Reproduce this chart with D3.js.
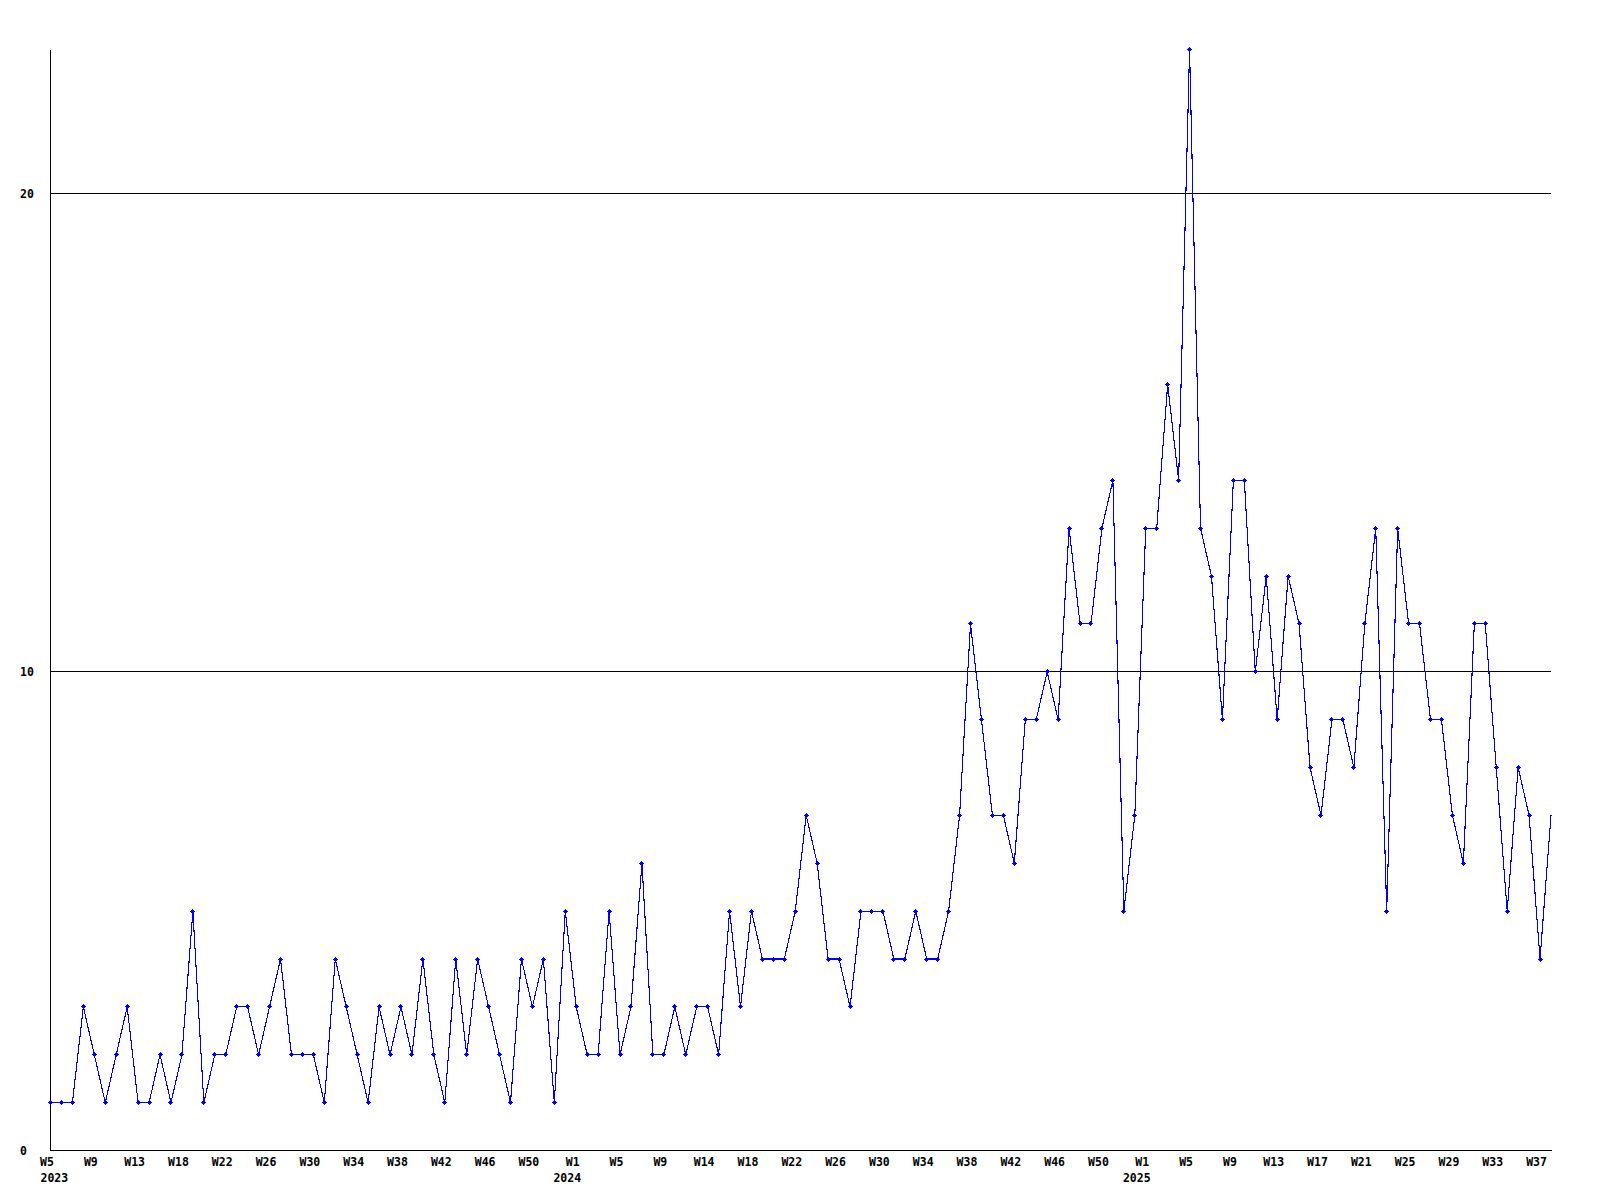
<!DOCTYPE html>
<html>
<head>
<meta charset="utf-8">
<script src="https://cdn.jsdelivr.net/npm/d3@7"></script>
<style>
  html, body { margin: 0; padding: 0; background: #ffffff; }
  svg { display: block; }
  text { font-family: "DejaVu Sans Mono", "Liberation Mono", monospace; font-weight: bold; font-size: 11.5px; fill: #000; }
</style>
</head>
<body>
<svg id="chart" width="1600" height="1200"></svg>
<script>
// Weekly values, 2023 W5 .. 2025 W38
const values = [
  1,1,1,3,2,1,2,3,1,1,2,1,2,5,1,2,2,3,3,2,3,4,2,2,2,1,4,3,2,1,3,2,3,2,4,2,1,4,2,4,3,2,1,4,3,4,
  1,5,3,2,2,5,2,3,6,2,2,3,2,3,3,2,5,3,5,4,4,4,5,7,6,4,4,3,5,5,5,4,4,5,4,4,5,7,
  11,9,7,7,6,9,9,10,9,13,11,11,13,14,5,7,13,13,16,14,23,13,12,9,14,14,10,12,9,12,11,8,7,9,9,8,11,13,5,13,11,11,9,9,7,6,11,11,8,5,8,7,4,7
];

// Labels shown on every 4th week
const tickWeeks = ["W5","W9","W13","W18","W22","W26","W30","W34","W38","W42","W46","W50",
                   "W1","W5","W9","W14","W18","W22","W26","W30","W34","W38","W42","W46","W50",
                   "W1","W5","W9","W13","W17","W21","W25","W29","W33","W37"];
const tickYears = ["2023","","","","","","","","","","","",
                   "2024","","","","","","","","","","","","",
                   "2025","","","","","","","","","",""];
const labelStep = 4;

const yTicks = [0, 10, 20];

const svg = d3.select("#chart");
svg.append("rect").attr("width", 1600).attr("height", 1200).attr("fill", "#fff");

const x = d3.scaleLinear().domain([0, values.length - 1]).range([50.5, 1551]);
const y = d3.scaleLinear().domain([0, d3.max(values)]).range([1150.5, 49.5]);

// gridlines
svg.append("g").selectAll("line")
  .data(yTicks.filter(d => d > 0))
  .join("line")
  .attr("x1", 50).attr("x2", 1551)
  .attr("y1", d => Math.round(y(d) - 0.5) + 0.5)
  .attr("y2", d => Math.round(y(d) - 0.5) + 0.5)
  .attr("stroke", "#000").attr("stroke-width", 1)
  .attr("shape-rendering", "crispEdges");

// left axis
const yAxis = d3.axisLeft(y).tickValues(yTicks).tickSize(0).tickSizeOuter(0).tickFormat(d3.format("d"));
const gy = svg.append("g").attr("transform", "translate(50,0)").call(yAxis);
gy.select(".domain").attr("stroke", "#000").attr("shape-rendering", "crispEdges");
gy.selectAll("text")
  .attr("x", -30).attr("dy", "0.35em")
  .attr("text-anchor", "start")
  .style("font-family", "'DejaVu Sans Mono', monospace")
  .style("font-weight", "bold").style("font-size", "11.5px");

// bottom axis
const tickIdx = tickWeeks.map((_, i) => i * labelStep);
const xAxis = d3.axisBottom(x).tickValues(tickIdx).tickSize(0).tickSizeOuter(0).tickFormat(() => "");
const gx = svg.append("g").attr("transform", "translate(0,1150)").call(xAxis);
gx.select(".domain").attr("stroke", "#000").attr("shape-rendering", "crispEdges");
gx.selectAll(".tick text").remove();
gx.selectAll(".tick").each(function(d, i) {
  const g = d3.select(this);
  g.append("text")
    .attr("x", -4).attr("y", 16)
    .attr("text-anchor", "middle")
    .text(tickWeeks[i]);
  if (tickYears[i]) {
    const t = g.append("text")
      .attr("x", -9.5).attr("y", 32)
      .attr("text-anchor", "middle")
      .text(tickYears[i]);
    // keep labels inside the left margin
    const bb = t.node().getBBox();
    const absLeft = x(d) + bb.x;
    if (absLeft < 40) t.attr("x", -9.5 + (40 - absLeft));
  }
});

// line
const line = d3.line().x((d, i) => x(i)).y(d => y(d));
svg.append("path")
  .datum(values)
  .attr("d", line)
  .attr("fill", "none")
  .attr("stroke", "#0000ff")
  .attr("stroke-width", 1.1)
  .attr("shape-rendering", "crispEdges");

// markers (not on last point): small plus/diamond glyph
const markerPath = "M0,-2h1v1h1v1h1v1h-1v1h-1v1h-1v-1h-1v-1h-1v-1h1v-1h1z";
svg.append("g").selectAll("path")
  .data(values.slice(0, values.length - 1))
  .join("path")
  .attr("d", markerPath)
  .attr("transform", (d, i) => `translate(${Math.floor(x(i))},${Math.floor(y(d))})`)
  .attr("fill", "#0000ff")
  .attr("shape-rendering", "crispEdges");
</script>
</body>
</html>
